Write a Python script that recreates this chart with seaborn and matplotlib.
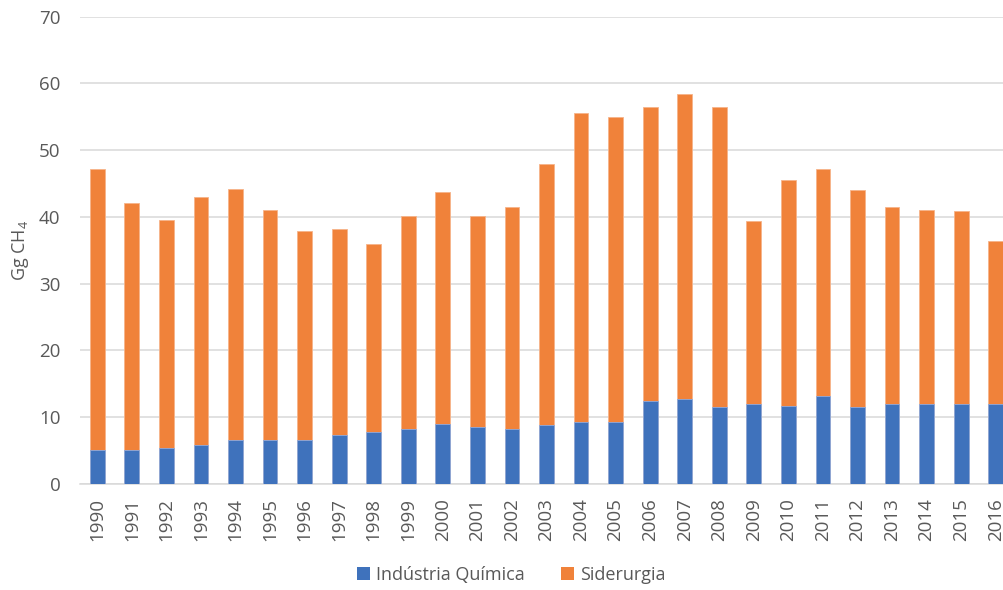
import matplotlib
matplotlib.use("Agg")
import matplotlib.pyplot as plt
import seaborn as sns
import pandas as pd
import numpy as np
from matplotlib.patches import Patch

# Methane emissions by sector (Gg CH4)
years = [str(y) for y in range(1990, 2017)]
quimica = [5.1, 5.1, 5.4, 5.9, 6.6, 6.6, 6.6, 7.35, 7.85, 8.3, 9.05, 8.6, 8.3, 8.8,
           9.3, 9.3, 12.45, 12.75, 11.5, 12.0, 11.75, 13.2, 11.5, 12.0, 12.0, 12.0, 12.0]
siderurgia = [42.1, 37.0, 34.2, 37.15, 37.65, 34.45, 31.35, 30.8, 28.1, 31.8, 34.7,
              31.5, 33.25, 39.15, 46.2, 45.7, 44.05, 45.65, 45.0, 27.4, 33.75, 34.0,
              32.55, 29.55, 29.05, 28.85, 24.45]
series_names = ["Indústria Química", "Siderurgia"]
yticks = [0, 10, 20, 30, 40, 50, 60, 70]

blue = "#3F72BC"
orange = "#F0823A"
text_color = "#595959"
grid_color = "#D9D9D9"

sns.set_theme(style="white")
plt.rcParams["font.family"] = ["Open Sans", "DejaVu Sans"]
plt.rcParams["mathtext.default"] = "regular"

df = pd.DataFrame({"ano": years, "quimica": quimica, "siderurgia": siderurgia})
df["total"] = df["quimica"] + df["siderurgia"]

fig = plt.figure(figsize=(10.04, 5.90), dpi=100)
ax = fig.add_axes([80 / 1004, 106 / 590, 933 / 1004, 467.3 / 590])

bar_w = 0.43
# stacked bars: full total in orange, chemical share drawn over it in blue
sns.barplot(data=df, x="ano", y="total", color=orange, width=bar_w, ax=ax,
            saturation=1, edgecolor="#F6B48A", linewidth=0.6, zorder=3)
sns.barplot(data=df, x="ano", y="quimica", color=blue, width=bar_w, ax=ax,
            saturation=1, edgecolor="#8FAADC", linewidth=0.6, zorder=4)

ax.set_xlim(-0.5, len(years) - 0.5)
ax.set_ylim(0, 70)
ax.set_yticks(yticks)
ax.set_yticklabels([str(v) for v in yticks])
ax.yaxis.grid(True, color=grid_color, linewidth=1.1, zorder=0)
ax.set_axisbelow(True)

for side in ["top", "right", "left"]:
    ax.spines[side].set_visible(False)
ax.spines["bottom"].set_color(grid_color)
ax.spines["bottom"].set_linewidth(1.1)

ax.tick_params(axis="y", length=0, pad=14, labelsize=13.5, labelcolor=text_color)
ax.tick_params(axis="x", length=0, pad=10, labelsize=13.5, labelcolor=text_color,
               labelrotation=90)

ax.set_xlabel("")
ax.set_ylabel("Gg CH$_4$", fontsize=13, color=text_color)
ax.yaxis.set_label_coords(-0.053, 0.5)

handles = [Patch(facecolor=blue, edgecolor="none"),
           Patch(facecolor=orange, edgecolor="none")]
fig.legend(handles, series_names, loc="center", bbox_to_anchor=(511 / 1004, 1 - 575 / 590),
           ncol=2, frameon=False, fontsize=13, labelcolor=text_color,
           handlelength=0.75, handleheight=0.75, handletextpad=0.3, columnspacing=2.0)

fig.savefig("out.png", dpi=100)
